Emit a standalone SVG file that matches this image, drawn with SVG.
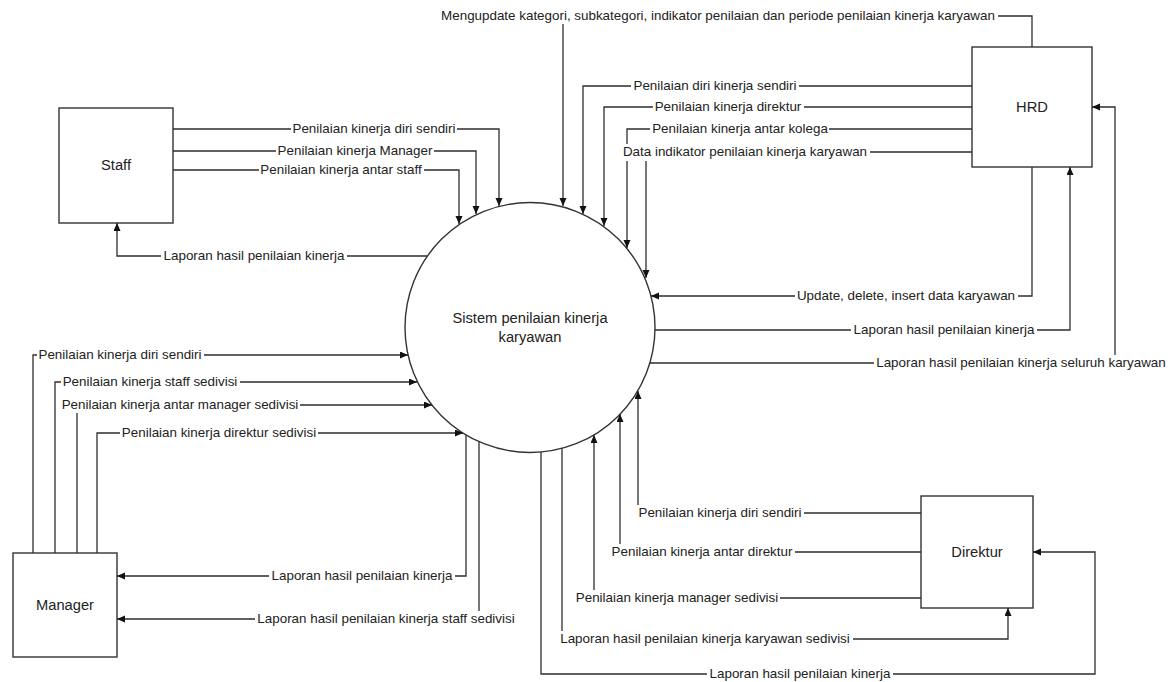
<svg xmlns="http://www.w3.org/2000/svg" width="1171" height="682" viewBox="0 0 1171 682">
  <style>
    .box { fill: #ffffff; stroke: #333333; stroke-width: 1.4; }
    .node-text { font-family: "Liberation Sans", Arial, sans-serif; font-size: 14.7px; fill: #222222; text-anchor: middle; }
    .flow { fill: none; stroke: #2e2e2e; stroke-width: 1.3; }
    .arrow { marker-end: url(#head); }
    .lbl-bg { fill: #ffffff; }
    .lbl { font-family: "Liberation Sans", Arial, sans-serif; font-size: 13.4px; fill: #222222; text-anchor: middle; }
  </style>
  <defs>
    <marker id="head" markerUnits="userSpaceOnUse" markerWidth="9" markerHeight="8" refX="8" refY="3.5" orient="auto">
      <path d="M0,0 L8,3.5 L0,7 z" fill="#111111"/>
    </marker>
  </defs>

  <rect width="1171" height="682" fill="#ffffff"/>

  <!-- external entities and the central process -->
  <g id="staff">
    <rect class="box" x="59" y="108" width="114" height="115"/>
    <text class="node-text" x="116" y="170">Staff</text>
  </g>
  <g id="hrd">
    <rect class="box" x="972" y="47" width="120" height="120"/>
    <text class="node-text" x="1032" y="112">HRD</text>
  </g>
  <g id="manager">
    <rect class="box" x="13" y="553" width="104" height="104"/>
    <text class="node-text" x="65" y="610">Manager</text>
  </g>
  <g id="direktur">
    <rect class="box" x="921" y="496" width="112" height="112"/>
    <text class="node-text" x="977" y="557">Direktur</text>
  </g>
  <g id="sistem">
    <circle class="box" cx="530" cy="327.5" r="125"/>
    <text class="node-text" x="530" y="323">Sistem penilaian kinerja</text>
    <text class="node-text" x="530" y="342">karyawan</text>
  </g>

  <!-- data flows -->
  <g id="connectors">
    <!-- Staff -->
    <path class="flow arrow" d="M173,129 H499 V206"/>
    <path class="flow arrow" d="M173,151 H476 V214"/>
    <path class="flow arrow" d="M173,170 H459 V224"/>
    <path class="flow arrow" d="M427,256 H117 V223"/>
    <!-- HRD -->
    <path class="flow arrow" d="M1032,47 V16 H563 V206"/>
    <path class="flow arrow" d="M972,86 H583 V214"/>
    <path class="flow arrow" d="M972,107 H604 V226"/>
    <path class="flow arrow" d="M972,129 H627 V248"/>
    <path class="flow arrow" d="M972,152 H646 V278"/>
    <path class="flow arrow" d="M1032,167 V296 H651"/>
    <path class="flow arrow" d="M655,330 H1070 V167"/>
    <path class="flow arrow" d="M650,363 H1115 V107 H1092"/>
    <!-- Manager -->
    <path class="flow arrow" d="M33,553 V355 H408"/>
    <path class="flow arrow" d="M55,553 V382 H417"/>
    <path class="flow arrow" d="M77,553 V405 H432"/>
    <path class="flow arrow" d="M97,553 V433 H463"/>
    <path class="flow arrow" d="M466,435 V576 H117"/>
    <path class="flow arrow" d="M479,441 V619 H117"/>
    <!-- Direktur -->
    <path class="flow arrow" d="M921,513 H638 V391"/>
    <path class="flow arrow" d="M921,552 H620 V414"/>
    <path class="flow arrow" d="M921,598 H594 V435"/>
    <path class="flow arrow" d="M562,448 V639 H1008 V608"/>
    <path class="flow arrow" d="M541,452 V674 H1095 V552 H1033"/>
  </g>

  <!-- flow labels, each on a white backing that interrupts the lines -->
  <g id="flow-labels">
    <rect class="lbl-bg" x="291" y="121" width="166" height="16"/>
    <text class="lbl" x="374" y="133">Penilaian kinerja diri sendiri</text>
    <rect class="lbl-bg" x="276" y="143" width="158" height="16"/>
    <text class="lbl" x="355" y="155">Penilaian kinerja Manager</text>
    <rect class="lbl-bg" x="259" y="162" width="165" height="16"/>
    <text class="lbl" x="341" y="174">Penilaian kinerja antar staff</text>
    <rect class="lbl-bg" x="161" y="248" width="186" height="16"/>
    <text class="lbl" x="254" y="260">Laporan hasil penilaian kinerja</text>

    <rect class="lbl-bg" x="438" y="8" width="560" height="16"/>
    <text class="lbl" x="718" y="20">Mengupdate kategori, subkategori, indikator penilaian dan periode penilaian kinerja karyawan</text>
    <rect class="lbl-bg" x="631" y="78" width="168" height="16"/>
    <text class="lbl" x="715" y="90">Penilaian diri kinerja sendiri</text>
    <rect class="lbl-bg" x="653" y="99" width="151" height="16"/>
    <text class="lbl" x="728" y="111">Penilaian kinerja direktur</text>
    <rect class="lbl-bg" x="650" y="121" width="179" height="16"/>
    <text class="lbl" x="740" y="133">Penilaian kinerja antar kolega</text>
    <rect class="lbl-bg" x="621" y="144" width="249" height="17"/>
    <text class="lbl" x="745" y="156">Data indikator penilaian kinerja karyawan</text>
    <rect class="lbl-bg" x="795" y="288" width="223" height="16"/>
    <text class="lbl" x="906" y="300">Update, delete, insert data karyawan</text>
    <rect class="lbl-bg" x="851" y="322" width="186" height="16"/>
    <text class="lbl" x="944" y="334">Laporan hasil penilaian kinerja</text>
    <rect class="lbl-bg" x="874" y="355" width="294" height="16"/>
    <text class="lbl" x="1021" y="367">Laporan hasil penilaian kinerja seluruh karyawan</text>

    <rect class="lbl-bg" x="37" y="347" width="167" height="16"/>
    <text class="lbl" x="120" y="359">Penilaian kinerja diri sendiri</text>
    <rect class="lbl-bg" x="61" y="374" width="179" height="16"/>
    <text class="lbl" x="150" y="386">Penilaian kinerja staff sedivisi</text>
    <rect class="lbl-bg" x="60" y="397" width="240" height="16"/>
    <text class="lbl" x="180" y="409">Penilaian kinerja antar manager sedivisi</text>
    <rect class="lbl-bg" x="120" y="425" width="198" height="16"/>
    <text class="lbl" x="219" y="437">Penilaian kinerja direktur sedivisi</text>
    <rect class="lbl-bg" x="269" y="568" width="186" height="16"/>
    <text class="lbl" x="362" y="580">Laporan hasil penilaian kinerja</text>
    <rect class="lbl-bg" x="255" y="611" width="262" height="16"/>
    <text class="lbl" x="386" y="623">Laporan hasil penilaian kinerja staff sedivisi</text>

    <rect class="lbl-bg" x="636" y="505" width="168" height="16"/>
    <text class="lbl" x="720" y="517">Penilaian kinerja diri sendiri</text>
    <rect class="lbl-bg" x="610" y="544" width="185" height="16"/>
    <text class="lbl" x="702" y="556">Penilaian kinerja antar direktur</text>
    <rect class="lbl-bg" x="574" y="590" width="206" height="16"/>
    <text class="lbl" x="677" y="602">Penilaian kinerja manager sedivisi</text>
    <rect class="lbl-bg" x="558" y="631" width="295" height="16"/>
    <text class="lbl" x="705" y="643">Laporan hasil penilaian kinerja karyawan sedivisi</text>
    <rect class="lbl-bg" x="707" y="666" width="186" height="16"/>
    <text class="lbl" x="800" y="678">Laporan hasil penilaian kinerja</text>
  </g>
</svg>
